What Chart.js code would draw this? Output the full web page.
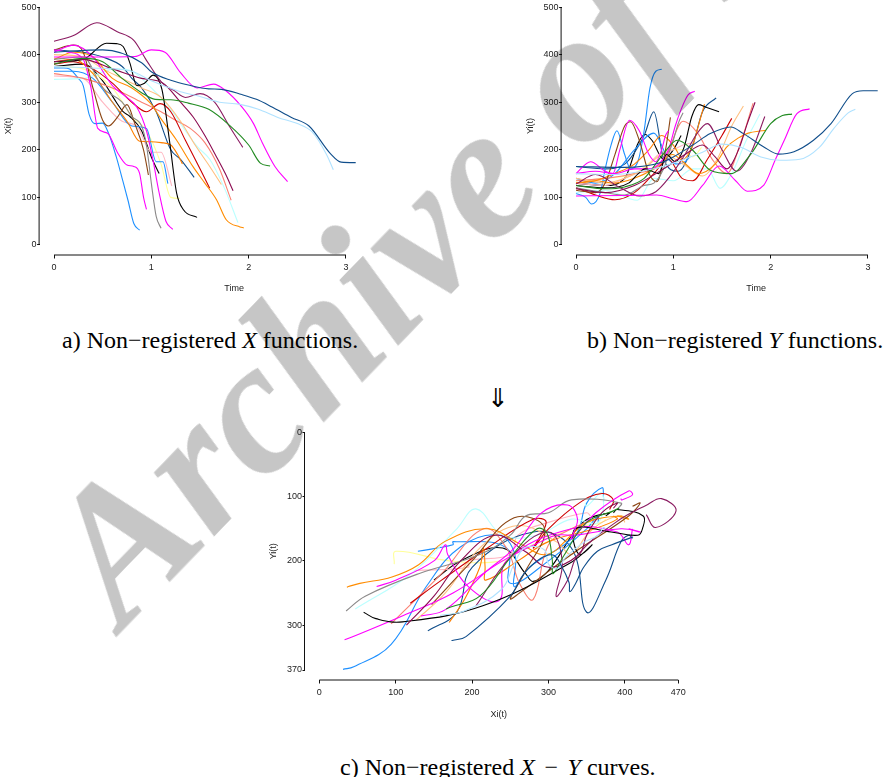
<!DOCTYPE html>
<html lang="en">
<head>
<meta charset="UTF-8">
<title>Non-registered X and Y functions</title>
<script src="https://cdn.jsdelivr.net/npm/chart.js"></script>
<style>
  html, body { margin: 0; padding: 0; background: #fff; overflow: hidden; }
  body { width: 891px; height: 777px; position: relative; }
  canvas { position: absolute; }
  .cap { position: absolute; font-family: "Liberation Serif", "Times New Roman", serif; font-size: 24px; line-height: 24px; white-space: nowrap; color: #000; }
  .op { margin: 0 0.4em; }
  #mark { position: absolute; left: 9px; top: 520px; transform-origin: 0 0; transform: rotate(-46deg);
          font-family: "Liberation Serif", serif; font-weight: bold; font-style: italic; font-size: 190px; line-height: 1;
          color: #c6c6c6; white-space: nowrap; mix-blend-mode: multiply; pointer-events: none; }
</style>
</head>
<body>
<canvas id="panelA" width="430" height="304" style="left:0px;top:-10px"></canvas>
<canvas id="panelB" width="430" height="304" style="left:521.7px;top:-10px"></canvas>
<canvas id="panelC" width="428" height="307" style="left:264.9px;top:412.8px"></canvas>

<div class="cap" style="left:62px;top:328px">a) Non&minus;registered <i>X</i> functions.</div>
<div class="cap" style="left:587px;top:328px">b) Non&minus;registered <i>Y</i> functions.</div>
<div class="cap" style="left:487px;top:387px;font-size:26px">&#8659;</div>
<div class="cap" style="left:340px;top:755px">c) Non&minus;registered <i>X</i><span class="op">&minus;</span><i>Y</i> curves.</div>
<div id="mark">Archive of SID</div>

<script>
// one entry per subject: colour, time points, X(t) and Y(t)
const subjectColors = ['#104E8B', '#B0E2FF', '#228B22', '#FF00FF', '#8B1C62', '#8B0A50', '#000000', '#8B8989',
  '#FF00FF', '#FF00FF', '#8B4513', '#FF8C00', '#FF7F00', '#CD0000', '#FFC080', '#FA8072',
  '#BBFFFF', '#1E90FF', '#1E90FF', '#104E8B', '#FFB6C1', '#FFFF99', '#000000'];

const times = [
  [0, 0.5, 0.9, 1.0, 1.2, 1.38, 1.59, 1.72, 1.93, 2.08, 2.24, 2.44, 2.62, 2.84, 2.95, 3.1],
  [0, 0.4, 0.8, 1.0, 1.3, 1.5, 1.7, 1.9, 2.1, 2.3, 2.5, 2.65, 2.8, 2.87],
  [0, 0.3, 0.5, 0.7, 0.9, 1.04, 1.2, 1.38, 1.59, 1.8, 2.0, 2.12, 2.22],
  [0, 0.5, 0.83, 1.0, 1.14, 1.3, 1.47, 1.64, 1.76, 1.93, 2.05, 2.14, 2.27, 2.4],
  [0, 0.2, 0.44, 0.65, 0.82, 0.95, 1.12, 1.23, 1.35, 1.5, 1.65, 1.8, 1.94],
  [0, 0.3, 0.6, 0.9, 1.12, 1.3, 1.43, 1.55, 1.67, 1.76, 1.84],
  [0, 0.3, 0.54, 0.64, 0.71, 0.78, 0.85, 0.93, 1.02, 1.11, 1.19, 1.26, 1.33, 1.47],
  [0, 0.3, 0.5, 0.7, 0.8, 0.9, 0.95, 1.0, 1.05, 1.1],
  [0, 0.2, 0.4, 0.6, 0.75, 0.85, 0.95, 1.02, 1.08, 1.15, 1.22],
  [0, 0.15, 0.3, 0.38, 0.45, 0.55, 0.65, 0.75, 0.82, 0.88, 0.92, 0.95],
  [0, 0.2, 0.3, 0.4, 0.5, 0.56, 0.65, 0.75, 0.83, 0.92, 0.97],
  [0, 0.2, 0.4, 0.6, 0.8, 0.99, 1.1, 1.26, 1.43, 1.55, 1.67, 1.77, 1.91, 1.95],
  [0, 0.2, 0.4, 0.6, 0.75, 0.88, 1.0, 1.1, 1.2, 1.27, 1.32],
  [0, 0.2, 0.4, 0.6, 0.8, 0.95, 1.09, 1.2, 1.35, 1.5, 1.6],
  [0, 0.3, 0.5, 0.7, 0.9, 1.1, 1.3, 1.45, 1.6, 1.72],
  [0, 0.3, 0.6, 0.9, 1.1, 1.25, 1.4, 1.55, 1.7, 1.82],
  [0, 0.3, 0.63, 0.8, 1.0, 1.2, 1.35, 1.48, 1.6, 1.75, 1.89],
  [0, 0.1, 0.16, 0.25, 0.3, 0.36, 0.42, 0.5, 0.56, 0.64, 0.7, 0.76, 0.82, 0.88],
  [0, 0.2, 0.4, 0.6, 0.8, 0.95, 1.05, 1.12, 1.17],
  [0, 0.3, 0.5, 0.7, 0.8, 0.9, 1.05, 1.2, 1.3, 1.44],
  [0, 0.3, 0.5, 0.7, 0.85, 1.0, 1.1, 1.21],
  [0, 0.3, 0.6, 0.8, 0.95, 1.1, 1.2, 1.29],
  [0, 0.3, 0.5, 0.64, 0.71, 0.78, 0.9, 1.0, 1.08]
];

const xValues = [
  [405, 410, 383, 364, 346, 336, 328, 327, 316, 306, 290, 268, 250, 192, 174, 173],
  [375, 372, 365, 345, 322, 312, 300, 296, 285, 268, 255, 238, 190, 158],
  [380, 392, 385, 350, 320, 306, 305, 298, 285, 252, 210, 172, 166],
  [395, 395, 396, 410, 405, 362, 330, 338, 325, 290, 255, 215, 165, 133],
  [428, 440, 467, 448, 430, 388, 339, 325, 310, 318, 300, 250, 205],
  [385, 390, 370, 350, 340, 300, 269, 230, 185, 150, 114],
  [385, 390, 424, 423, 417, 382, 335, 340, 357, 326, 214, 109, 74, 58],
  [390, 395, 330, 300, 270, 250, 210, 130, 60, 35],
  [405, 420, 395, 335, 310, 290, 240, 175, 110, 50, 33],
  [410, 405, 390, 330, 245, 235, 195, 168, 165, 150, 100, 75],
  [410, 420, 405, 330, 262, 250, 268, 295, 255, 200, 147],
  [390, 405, 395, 350, 330, 298, 265, 220, 164, 130, 95, 53, 38, 36],
  [385, 390, 360, 300, 260, 218, 217, 215, 210, 190, 170],
  [380, 385, 370, 340, 300, 280, 297, 280, 220, 160, 119],
  [400, 395, 370, 350, 330, 310, 260, 210, 165, 127],
  [360, 350, 330, 300, 280, 262, 245, 215, 160, 94],
  [348, 350, 370, 365, 330, 285, 240, 205, 180, 120, 47],
  [372, 372, 370, 350, 335, 275, 255, 256, 235, 185, 140, 94, 45, 31],
  [365, 365, 350, 300, 250, 245, 175, 175, 129],
  [410, 405, 395, 375, 350, 330, 280, 200, 180, 142],
  [355, 350, 300, 260, 250, 195, 195, 124],
  [375, 370, 330, 270, 240, 170, 100, 98],
  [375, 380, 345, 300, 280, 270, 240, 185, 150]
];

const yValues = [
  [165, 163, 175, 185, 210, 234, 248, 234, 206, 191, 196, 220, 255, 318, 324, 324],
  [150, 148, 160, 172, 195, 212, 205, 185, 178, 180, 205, 245, 278, 285],
  [125, 118, 122, 140, 192, 220, 199, 157, 150, 192, 255, 272, 275],
  [103, 104, 105, 97, 91, 125, 166, 135, 113, 126, 180, 220, 276, 286],
  [128, 148, 122, 103, 112, 140, 190, 230, 255, 200, 155, 195, 270],
  [118, 110, 125, 160, 190, 210, 185, 160, 200, 255, 300],
  [125, 120, 130, 150, 160, 155, 150, 190, 175, 205, 270, 295, 290, 280],
  [120, 110, 105, 125, 130, 160, 190, 220, 255, 278],
  [150, 155, 150, 160, 160, 170, 200, 250, 285, 315, 323],
  [150, 175, 155, 150, 200, 262, 240, 190, 175, 200, 230, 240],
  [115, 110, 130, 190, 250, 259, 220, 150, 133, 200, 268],
  [130, 135, 130, 140, 160, 190, 175, 150, 170, 206, 225, 235, 240, 241],
  [130, 135, 150, 170, 200, 230, 210, 180, 210, 260, 296],
  [120, 105, 95, 110, 150, 180, 140, 135, 180, 230, 266],
  [140, 130, 140, 160, 190, 170, 145, 180, 250, 292],
  [135, 140, 150, 175, 260, 235, 180, 150, 220, 298],
  [110, 115, 94, 140, 135, 160, 160, 119, 150, 220, 275],
  [108, 100, 86, 110, 160, 210, 240, 190, 160, 178, 240, 330, 365, 369],
  [140, 130, 150, 200, 235, 180, 170, 175, 185],
  [165, 160, 170, 230, 280, 180, 155, 210, 280, 309],
  [130, 125, 140, 160, 190, 200, 210, 215],
  [135, 140, 150, 180, 200, 200, 185, 205],
  [130, 125, 140, 215, 232, 220, 180, 200, 230]
];

const timeTicks = [0, 1, 2, 3];
const funcTicks = [0, 100, 200, 300, 400, 500];
const curveXTicks = [0, 100, 200, 300, 400, 470];
const curveYTicks = [0, 100, 200, 300, 370];

const tickFont = { family: '"Liberation Sans", Arial, sans-serif', size: 9 };

// R-style axis lines: only from first to last tick
const rAxes = {
  id: 'rAxes',
  afterDraw(chart) {
    const { ctx, chartArea, scales: { x, y } } = chart;
    const xt = x.ticks, yt = y.ticks;
    ctx.save();
    ctx.strokeStyle = '#111';
    ctx.lineWidth = 1;
    ctx.beginPath();
    ctx.moveTo(x.getPixelForValue(xt[0].value), chartArea.bottom + 0.5);
    ctx.lineTo(x.getPixelForValue(xt[xt.length - 1].value), chartArea.bottom + 0.5);
    ctx.moveTo(chartArea.left - 0.5, y.getPixelForValue(yt[0].value));
    ctx.lineTo(chartArea.left - 0.5, y.getPixelForValue(yt[yt.length - 1].value));
    ctx.stroke();
    ctx.restore();
  }
};

function axis(ticks, title, opts) {
  return Object.assign({
    type: 'linear',
    afterBuildTicks: s => { s.ticks = ticks.map(v => ({ value: v })); },
    grid: { drawOnChartArea: false, tickLength: 4, color: '#111' },
    border: { display: false },
    ticks: { font: tickFont, color: '#222', padding: 4, maxRotation: 0, autoSkip: false, callback: v => String(v) },
    title: { display: true, text: title, font: tickFont, color: '#222', padding: 0 }
  }, opts);
}

function yAxis(ticks, title, width, titlePad, opts) {
  return axis(ticks, title, Object.assign({
    afterFit: s => { s.width = width; },
    grid: { drawOnChartArea: false, tickLength: 2.5, color: '#111' },
    ticks: { font: tickFont, color: '#222', padding: 0.5, autoSkip: false, callback: v => String(v) },
    title: { display: true, text: title, font: tickFont, color: '#222', padding: { top: titlePad } }
  }, opts));
}

function makeDatasets(xs, ys, smooth) {
  return xs.map((row, i) => ({
    data: row.map((v, k) => ({ x: v, y: ys[i][k] })),
    borderColor: subjectColors[i],
    borderWidth: 1.1,
    showLine: true,
    pointRadius: 0,
    tension: 0.4,
    cubicInterpolationMode: smooth ? 'monotone' : 'default'
  }));
}

function drawPanel(id, datasets, scales, padding) {
  new Chart(document.getElementById(id), {
    type: 'scatter',
    data: { datasets },
    options: {
      responsive: false,
      animation: false,
      events: [],
      layout: { padding },
      plugins: { legend: { display: false }, tooltip: { enabled: false } },
      scales
    },
    plugins: [rAxes]
  });
}

drawPanel('panelA', makeDatasets(times, xValues, true), {
  x: axis(timeTicks, 'Time', { min: -0.148, max: 3.848, afterFit: s => { s.height = 39.5; } }),
  y: yAxis(funcTicks, 'Xi(t)', 39.6, 3.5, { min: -20, max: 520 })
}, { top: 7.5, right: 1.5, left: 0, bottom: 0 });

drawPanel('panelB', makeDatasets(times, yValues, true), {
  x: axis(timeTicks, 'Time', { min: -0.148, max: 3.848, afterFit: s => { s.height = 39.5; } }),
  y: yAxis(funcTicks, 'Yi(t)', 39.6, 3.5, { min: -20, max: 520 })
}, { top: 7.5, right: 1.5, left: 0, bottom: 0 });

drawPanel('panelC', makeDatasets(xValues, yValues, false), {
  x: axis(curveXTicks, 'Xi(t)', { min: -18.8, max: 488.8, afterFit: s => { s.height = 40.5; } }),
  y: yAxis(curveYTicks, 'Yi(t)', 40, 2.7, { min: -14.8, max: 384.8, reverse: true })
}, { top: 10, right: 0.3, left: 0, bottom: 0 });
</script>
</body>
</html>
